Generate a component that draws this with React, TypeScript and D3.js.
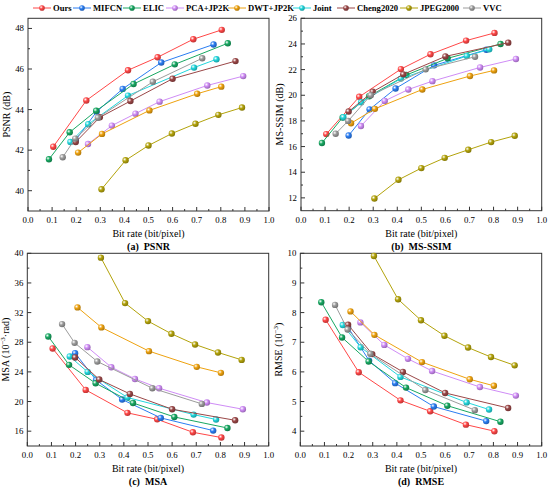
import * as React from 'react';
import * as d3 from 'd3';

const W = 550;
const H = 489;

const methods = ['Ours', 'MIFCN', 'ELIC', 'PCA+JP2K', 'DWT+JP2K', 'Joint', 'Cheng2020', 'JPEG2000', 'VVC'];
const colors = ['#ff4747', '#2a7df2', '#18a862', '#cf8cf6', '#eea20f', '#22d6dc', '#9a4747', '#b3a30b', '#9c9c9c'];

// bit rates (bit/pixel), one row per method, same order as methods
const bitRates = [
  [0.105, 0.242, 0.415, 0.538, 0.686, 0.804],
  [0.198, 0.285, 0.393, 0.553, 0.77],
  [0.087, 0.173, 0.283, 0.438, 0.609, 0.829],
  [0.249, 0.348, 0.446, 0.546, 0.744, 0.893],
  [0.208, 0.307, 0.504, 0.702, 0.802],
  [0.176, 0.25, 0.415, 0.689, 0.782],
  [0.198, 0.298, 0.425, 0.6, 0.861],
  [0.305, 0.405, 0.5, 0.597, 0.695, 0.79, 0.888],
  [0.144, 0.196, 0.29, 0.518, 0.723],
];

const psnr = [
  [42.17, 44.45, 45.94, 46.58, 47.47, 47.93],
  [42.5, 43.9, 45.02, 46.32, 47.21],
  [41.55, 42.88, 43.94, 45.26, 46.23, 47.27],
  [42.3, 43.21, 43.8, 44.39, 45.19, 45.65],
  [41.88, 42.8, 43.96, 44.78, 45.13],
  [42.4, 43.28, 44.69, 46.07, 46.48],
  [42.4, 43.62, 44.42, 45.52, 46.39],
  [40.07, 41.5, 42.23, 42.82, 43.3, 43.74, 44.1],
  [41.65, 42.57, 43.6, 45.37, 46.53],
];

const msssim = [
  [16.97, 19.88, 22.04, 23.2, 24.26, 24.86],
  [16.86, 18.9, 20.53, 22.33, 23.55],
  [16.28, 18.27, 19.92, 21.58, 22.88, 24.0],
  [17.6, 19.56, 20.45, 21.1, 22.17, 22.83],
  [17.82, 18.94, 20.45, 21.5, 21.94],
  [18.29, 19.45, 21.3, 23.06, 23.58],
  [18.73, 20.27, 21.63, 23.03, 24.1],
  [11.95, 13.41, 14.32, 15.12, 15.75, 16.35, 16.84],
  [17.0, 18.0, 20.0, 22.02, 23.0],
];

const msa = [
  [27.16, 21.57, 18.47, 17.6, 15.85, 15.14],
  [26.53, 22.9, 20.27, 17.79, 16.08],
  [28.78, 24.95, 22.47, 19.8, 17.92, 16.43],
  [27.34, 24.63, 23.05, 21.8, 19.86, 18.96],
  [32.7, 30.0, 26.8, 24.68, 23.87],
  [26.08, 24.0, 20.54, 18.24, 17.57],
  [25.95, 22.97, 21.03, 18.96, 17.47],
  [39.41, 33.28, 30.85, 29.14, 27.7, 26.62, 25.62],
  [30.45, 27.92, 25.4, 21.8, 19.68],
];

const rmse = [
  [7.76, 5.99, 5.04, 4.67, 4.22, 4.0],
  [7.5, 6.38, 5.62, 4.83, 4.34],
  [8.35, 7.16, 6.35, 5.47, 4.86, 4.32],
  [7.67, 6.91, 6.44, 6.03, 5.49, 5.2],
  [8.04, 7.25, 6.33, 5.75, 5.53],
  [7.58, 6.83, 5.83, 4.97, 4.73],
  [7.59, 6.6, 6.0, 5.29, 4.78],
  [9.91, 8.45, 7.74, 7.22, 6.82, 6.5, 6.22],
  [8.26, 7.43, 6.61, 5.39, 4.71],
];

const xTicks = d3.range(0, 1.0001, 0.1);
const xMinor = d3.range(0.05, 1, 0.1);

const font = '"Liberation Serif", "Times New Roman", serif';

type PanelProps = {
  left: number; top: number; right: number; bottom: number;
  yDomain: [number, number];
  yTicks: number[];
  yMinor: number[];
  values: number[][];
  yLabel: React.ReactNode;
  tag: string;
  name: string;
};

const Panel = (p: PanelProps) => {
  const x = d3.scaleLinear().domain([0, 1]).range([p.left, p.right]);
  const y = d3.scaleLinear().domain(p.yDomain).range([p.bottom, p.top]);
  const line = d3.line<[number, number]>().x(d => x(d[0])).y(d => y(d[1]));
  const cx = (p.left + p.right) / 2;
  return (
    <g>
      <rect x={p.left} y={p.top} width={p.right - p.left} height={p.bottom - p.top}
        fill="none" stroke="#333" strokeWidth={1} />
      {xTicks.map(t => (
        <g key={'x' + t}>
          <line x1={x(t)} x2={x(t)} y1={p.bottom} y2={p.bottom - 4} stroke="#333" />
          <text x={x(t)} y={p.bottom + 12} textAnchor="middle" fontSize={8.8}>{t.toFixed(1)}</text>
        </g>
      ))}
      {xMinor.map(t => (
        <line key={'xm' + t} x1={x(t)} x2={x(t)} y1={p.bottom} y2={p.bottom - 2} stroke="#333" />
      ))}
      {p.yTicks.map(t => (
        <g key={'y' + t}>
          <line x1={p.left} x2={p.left + 4} y1={y(t)} y2={y(t)} stroke="#333" />
          <text x={p.left - 4} y={y(t) + 3} textAnchor="end" fontSize={8.8}>{t}</text>
        </g>
      ))}
      {p.yMinor.map(t => (
        <line key={'ym' + t} x1={p.left} x2={p.left + 2} y1={y(t)} y2={y(t)} stroke="#333" />
      ))}
      <text x={cx} y={p.bottom + 26} textAnchor="middle" fontSize={10}>Bit rate (bit/pixel)</text>
      <text x={cx} y={p.bottom + 39} textAnchor="middle" fontSize={10} fontWeight="bold">
        {p.tag}{'\u00a0\u00a0'}{p.name}
      </text>
      <text transform={`translate(${p.left - 18},${(p.top + p.bottom) / 2}) rotate(-90)`}
        textAnchor="middle" fontSize={10}>{p.yLabel}</text>
      {methods.map((m, i) => {
        const pts = bitRates[i].map((b, j) => [b, p.values[i][j]] as [number, number]);
        return (
          <g key={m}>
            <path d={line(pts)!} fill="none" stroke={colors[i]} strokeWidth={1} />
            {pts.map((d, j) => (
              <circle key={j} cx={x(d[0])} cy={y(d[1])} r={3.2} fill={`url(#ball${i})`} />
            ))}
          </g>
        );
      })}
    </g>
  );
};

const legendX = [33, 73, 123, 166, 228, 293, 337, 400, 463];

const App = () => {
  return (
    <svg width={W} height={H} style={{position: 'absolute', left: 0, top: 0, background: '#fff'}}
      fontFamily={font}>
      <defs>
        {colors.map((c, i) => (
          <radialGradient key={i} id={`ball${i}`} cx="35%" cy="35%" r="65%">
            <stop offset="0%" stopColor="#fff" />
            <stop offset="45%" stopColor={c} />
            <stop offset="100%" stopColor={d3.color(c)!.darker(0.8).formatHex()} />
          </radialGradient>
        ))}
      </defs>
      {methods.map((m, i) => (
        <g key={m}>
          <line x1={legendX[i]} x2={legendX[i] + 18} y1={8} y2={8} stroke={colors[i]} strokeWidth={1} />
          <circle cx={legendX[i] + 9} cy={8} r={2.8} fill={`url(#ball${i})`} />
          <text x={legendX[i] + 20} y={11} fontSize={8.6} fontWeight="bold">{m}</text>
        </g>
      ))}
      <Panel left={28} top={18.3} right={269} bottom={211} yDomain={[39, 48.5]}
        yTicks={d3.range(40, 48.1, 2)} yMinor={d3.range(41, 48.1, 2)}
        values={psnr} yLabel="PSNR (dB)" tag="(a)" name="PSNR" />
      <Panel left={301} top={18.3} right={541.7} bottom={210.7} yDomain={[11, 26]}
        yTicks={d3.range(12, 26.1, 2)} yMinor={d3.range(13, 26, 2)}
        values={msssim} yLabel="MS-SSIM (dB)" tag="(b)" name="MS-SSIM" />
      <Panel left={27.3} top={253.3} right={268.7} bottom={446} yDomain={[14, 40]}
        yTicks={d3.range(16, 40.1, 4)} yMinor={d3.range(18, 40, 4)}
        values={msa}
        yLabel={<>MSA (10<tspan fontSize={7} dy={-4}>{'\u22123'}</tspan><tspan dy={4}>{'\u00b7rad)'}</tspan></>}
        tag="(c)" name="MSA" />
      <Panel left={300.3} top={253.3} right={541.7} bottom={446} yDomain={[3.5, 10]}
        yTicks={d3.range(4, 10.1, 1)} yMinor={d3.range(4.5, 10, 1)}
        values={rmse}
        yLabel={<>RMSE (10<tspan fontSize={7} dy={-4}>{'\u22123'}</tspan><tspan dy={4}>)</tspan></>}
        tag="(d)" name="RMSE" />
    </svg>
  );
};

export default App;
